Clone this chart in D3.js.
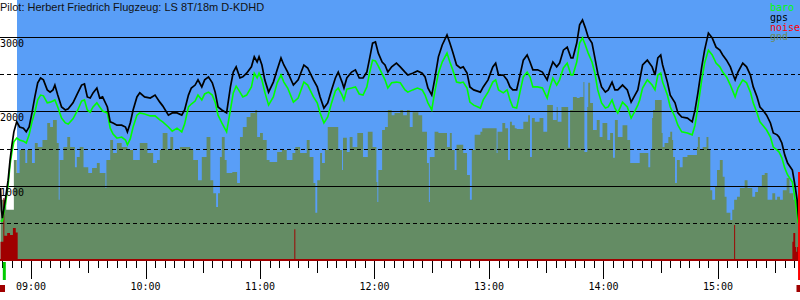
<!DOCTYPE html>
<html>
<head>
<meta charset="utf-8">
<script src="https://cdn.jsdelivr.net/npm/d3@7"></script>
<style>
  html, body { margin: 0; padding: 0; background: #fff; }
  svg { display: block; }
</style>
</head>
<body>
<div id="chart"></div>
<script>
(function() {
    'use strict';

    const title = "Pilot: Herbert Friedrich Flugzeug: LS 8T/18m D-KDHD";

    // fixes: time, gps altitude, baro altitude (m)
    const fixTimes = [
        "08:44:00","08:44:30","08:45:00","08:46:30","08:48:00","08:49:00","08:50:00","08:51:00","08:52:30","08:54:00",
        "08:56:00","08:57:30","08:59:00","09:00:30","09:02:00","09:03:30","09:05:00","09:06:30","09:08:30","09:10:00",
        "09:11:30","09:12:30","09:14:00","09:16:00","09:18:00","09:19:30","09:22:00","09:24:30","09:26:30","09:28:00",
        "09:29:30","09:31:00","09:32:30","09:34:30","09:36:00","09:37:30","09:40:00","09:41:30","09:43:00","09:45:00",
        "09:47:30","09:49:30","09:50:30","09:52:00","09:53:30","09:55:30","09:57:00","09:59:30","10:02:30","10:05:00",
        "10:07:30","10:09:00","10:12:00","10:14:00","10:16:30","10:19:00","10:20:30","10:22:30","10:24:00","10:26:00",
        "10:27:30","10:29:30","10:31:00","10:33:00","10:35:00","10:36:30","10:38:00","10:40:00","10:42:30","10:44:30",
        "10:46:00","10:47:30","10:49:30","10:51:00","10:53:00","10:55:30","10:57:00","10:58:30","10:59:30","11:01:00",
        "11:02:30","11:04:30","11:07:00","11:09:00","11:11:00","11:12:30","11:14:30","11:17:30","11:20:00","11:23:00",
        "11:25:00","11:28:00","11:30:00","11:31:30","11:33:30","11:35:30","11:37:30","11:39:30","11:41:00","11:43:00",
        "11:44:00","11:45:30","11:48:00","11:50:00","11:52:00","11:54:00","11:56:00","11:57:30","11:59:00","12:00:30",
        "12:02:00","12:04:00","12:05:30","12:07:00","12:09:00","12:11:30","12:13:30","12:16:00","12:17:30","12:20:00",
        "12:22:30","12:25:00","12:26:30","12:28:00","12:30:00","12:31:30","12:33:30","12:35:30","12:38:00","12:39:30",
        "12:41:00","12:43:00","12:45:00","12:46:30","12:48:30","12:50:00","12:52:00","12:55:30","12:57:00","12:59:30",
        "13:02:00","13:03:30","13:05:00","13:07:30","13:09:30","13:11:00","13:12:30","13:14:30","13:16:30","13:18:00",
        "13:20:00","13:21:30","13:23:00","13:25:30","13:28:00","13:30:30","13:32:00","13:33:30","13:35:30","13:37:00",
        "13:39:00","13:41:00","13:43:00","13:44:00","13:46:00","13:47:30","13:49:00","13:50:30","13:52:00","13:54:00",
        "13:55:30","13:57:00","13:59:00","14:01:00","14:02:30","14:04:30","14:06:00","14:07:30","14:10:00","14:12:30",
        "14:14:30","14:16:00","14:18:00","14:19:00","14:20:30","14:23:00","14:25:30","14:27:00","14:28:30","14:30:00",
        "14:31:00","14:33:30","14:35:00","14:37:30","14:39:00","14:41:00","14:44:00","14:46:30","14:48:00","14:49:30",
        "14:51:30","14:53:00","14:55:00","14:57:00","14:59:00","15:01:00","15:02:30","15:04:30","15:06:30","15:08:00",
        "15:09:00","15:10:30","15:13:00","15:15:00","15:17:00","15:18:30","15:20:30","15:22:00","15:23:30","15:25:30",
        "15:27:30","15:29:00","15:31:00","15:32:00","15:33:30","15:35:00","15:36:30","15:39:00","15:40:30","15:41:30",
        "15:42:00","15:42:30"
    ];
    const gpsAlt = [
        970,675,565,810,1075,1345,1550,1725,1860,1790,
        1775,1725,1790,1980,2195,2385,2450,2425,2290,2260,
        2290,2355,2220,2060,2020,2035,2115,2250,2355,2370,
        2195,2180,2250,2315,2180,2195,2060,1860,1845,1815,
        1815,1790,1725,1845,2020,2195,2250,2195,2180,2220,
        2125,2075,1950,1980,1980,1950,2020,2220,2315,2355,
        2425,2330,2425,2465,2385,2260,2060,2020,1980,2330,
        2530,2600,2450,2465,2515,2600,2735,2665,2735,2625,
        2425,2260,2395,2560,2720,2625,2530,2355,2425,2625,
        2585,2425,2330,2195,2045,2115,2290,2450,2530,2395,
        2315,2450,2530,2560,2450,2450,2530,2720,2920,2935,
        2785,2665,2625,2530,2600,2650,2600,2530,2490,2515,
        2545,2515,2465,2315,2220,2425,2735,2895,3030,2920,
        2800,2625,2585,2600,2515,2330,2290,2260,2330,2425,
        2600,2650,2490,2490,2425,2330,2290,2290,2515,2690,
        2760,2665,2560,2560,2530,2425,2560,2665,2600,2650,
        2825,2865,2720,2720,2920,3165,3230,3125,3000,2920,
        2720,2515,2330,2260,2290,2395,2290,2290,2355,2290,
        2125,2195,2290,2425,2625,2690,2600,2490,2720,2760,
        2625,2395,2220,2115,1980,1925,1910,1860,2020,2250,
        2600,2825,3055,2990,2865,2825,2760,2690,2600,2490,
        2425,2530,2650,2600,2490,2330,2195,2060,2020,1950,
        1845,1710,1685,1655,1575,1415,1305,1210,985,810,
        635,510
    ];
    const baroAlt = [
        525,525,525,740,1010,1280,1455,1590,1640,1615,
        1600,1575,1685,1860,1990,2155,2220,2210,2115,2125,
        2140,2155,2060,1910,1845,1830,1900,2020,2140,2155,
        2020,1990,2060,2115,2060,2005,1980,1775,1695,1640,
        1655,1615,1550,1630,1790,1950,1980,1965,1940,1940,
        1885,1860,1790,1735,1775,1725,1830,2060,2100,2140,
        2220,2155,2235,2260,2220,2125,1950,1845,1725,2020,
        2250,2340,2260,2195,2220,2330,2515,2450,2515,2425,
        2260,2085,2195,2385,2490,2395,2315,2125,2180,2395,
        2355,2195,2115,1980,1845,1925,2115,2275,2315,2220,
        2155,2300,2315,2330,2235,2220,2330,2530,2690,2680,
        2610,2505,2425,2315,2385,2395,2385,2290,2260,2290,
        2315,2290,2220,2115,2020,2250,2515,2665,2785,2665,
        2560,2395,2385,2395,2315,2125,2085,2045,2155,2260,
        2395,2425,2290,2250,2290,2155,2060,2045,2290,2465,
        2530,2465,2330,2330,2315,2180,2330,2450,2355,2425,
        2585,2650,2490,2490,2665,2920,2990,2895,2785,2665,
        2515,2290,2115,2045,2060,2155,2045,1980,2125,2060,
        1910,1980,2085,2155,2315,2425,2355,2290,2490,2515,
        2395,2220,2060,1925,1815,1725,1710,1685,1815,2060,
        2425,2650,2825,2760,2650,2600,2530,2465,2355,2260,
        2195,2315,2425,2385,2260,2115,1980,1860,1815,1750,
        1655,1520,1480,1455,1375,1240,1145,1050,810,635,
        510,485
    ];

    // ground elevation below the track (m), step values
    const gndTimes = [
        "08:44:00","08:47:00","08:51:00","08:52:30","08:54:00","08:57:00","08:58:00",
        "09:00:30","09:02:00","09:03:30","09:06:00","09:08:30","09:10:00","09:11:30","09:13:30","09:14:30","09:15:00",
        "09:17:00","09:19:00","09:20:30","09:23:00","09:24:00","09:25:30","09:27:30","09:30:00","09:32:00","09:34:30",
        "09:36:00","09:39:00","09:39:30","09:41:30","09:43:00","09:45:00","09:47:30","09:50:30","09:53:30","09:57:00",
        "10:01:00","10:04:00","10:06:00","10:07:30","10:09:00","10:11:30","10:13:00","10:14:30","10:18:00","10:23:30",
        "10:25:00","10:27:30","10:29:30","10:32:00","10:34:00","10:35:30","10:37:00","10:38:00","10:39:00","10:40:00",
        "10:41:30","10:42:30","10:45:30","10:48:00","10:49:30","10:51:00","10:53:00","10:55:00","10:57:30","10:58:30",
        "11:00:00","11:01:30","11:03:30","11:05:00","11:09:00","11:11:30","11:14:00","11:17:00","11:18:30","11:21:00",
        "11:24:30","11:26:00","11:28:00","11:29:00","11:30:00","11:31:30","11:32:30","11:34:00","11:35:30","11:41:00",
        "11:43:00","11:43:30","11:45:30","11:47:00","11:48:30","11:51:00","11:54:00","11:56:30","11:59:00","12:01:00",
        "12:01:30","12:02:00","12:04:00","12:05:30","12:07:00","12:09:00","12:10:30","12:13:30","12:15:00","12:17:00",
        "12:18:30","12:20:00","12:23:00","12:25:00","12:27:30","12:28:30","12:29:00","12:31:30","12:33:30","12:38:00",
        "12:39:30","12:40:30","12:42:00","12:43:00","12:46:30","12:48:30","12:50:00","12:51:00","12:52:30","12:55:30",
        "12:56:30","13:04:00","13:04:30","13:07:00","13:08:30","13:10:00","13:11:00","13:12:00","13:13:30","13:14:30",
        "13:18:00","13:20:30","13:21:30","13:22:30","13:24:00","13:26:30","13:28:30","13:30:30","13:33:30","13:35:30",
        "13:36:00","13:38:00","13:41:30","13:42:30","13:44:00","13:46:00","13:47:30","13:49:30","13:50:00","13:51:30",
        "13:52:00","13:53:00","13:54:30","13:56:30","13:58:00","13:59:30","14:02:00","14:03:30","14:05:00","14:06:00",
        "14:07:30","14:10:00","14:12:30","14:14:00","14:19:00","14:23:30","14:24:30","14:25:30","14:26:00","14:27:00",
        "14:30:30","14:31:00","14:32:00","14:34:00","14:35:00","14:36:00","14:36:30","14:37:30","14:38:30","14:40:00",
        "14:41:30","14:44:00","14:49:00","14:49:30","14:50:30","14:52:00","14:54:00","14:55:00","14:56:00","14:57:00",
        "14:58:30","14:59:30","15:01:00","15:02:30","15:03:30","15:04:30","15:06:30","15:07:30","15:08:30","15:10:00",
        "15:11:30","15:14:00","15:15:30","15:18:00","15:19:30","15:21:00","15:23:00","15:24:30","15:26:00","15:28:30",
        "15:30:00","15:31:00","15:32:30","15:34:00","15:36:00","15:37:30","15:39:30","15:41:30","15:43:00"
    ];
    const gndAlt = [
        810,675,1345,1170,1480,1305,1480,
        1305,1575,1520,1615,1845,1790,1885,1575,810,1345,
        1520,1655,1520,1250,1385,1520,1250,1170,1240,1305,
        1170,970,1345,1615,1440,1575,1520,1480,1345,1575,
        1440,1305,1345,1480,1710,1480,1655,1480,1520,1480,
        1345,1075,1385,1655,1075,900,715,900,1385,1655,
        1345,1170,1185,1035,1655,1790,1925,1980,2020,1655,
        1710,1615,1345,1320,1455,1480,1345,1440,1520,1440,
        1615,1385,1035,635,1075,1440,1305,1480,1790,1480,
        1210,1645,1455,1655,1520,1710,1385,1725,1520,1050,
        780,1210,1750,1790,2020,1950,1980,2020,1950,2020,
        1790,1990,1950,1725,1305,780,1385,1725,1710,1520,
        1710,1480,1210,1550,1440,1145,810,1480,1685,1725,
        1775,1440,1725,1845,1775,1345,1860,1815,1775,1765,
        1860,1950,1385,1910,1860,1910,1725,2085,1885,2060,
        1860,2060,1510,2020,2195,2180,2195,2395,1455,2060,
        2385,2115,1750,1885,1655,1845,1615,1710,1375,1885,
        1655,1815,1615,1305,1440,1250,1480,1910,2020,2155,
        1710,1520,1575,1655,1725,1615,1385,1035,1345,1250,
        1385,1415,1520,1655,1480,1520,1655,1480,940,810,
        985,1210,1345,1120,850,635,540,675,810,850,
        970,1075,970,850,915,985,1145,1170,810,900,
        810,850,810,940,1105,900,810,635,635
    ];

    // engine noise level, step values
    const noiseTimes = [
        "08:44:00","08:45:30","08:46:00","08:47:30","08:49:00","08:50:30","08:52:00","08:53:00",
        "11:18:00","11:18:30","15:08:30","15:09:00",
        "15:39:00","15:39:30","15:40:30","15:41:00","15:41:30","15:43:00"
    ];
    const noiseLevel = [
        245,835,325,365,335,430,370,0,
        415,0,470,0,
        245,365,175,110,175,175
    ];

    const takeoffTime = "08:46:00";
    const landingTime = "15:42:30";

    const solidLevels = [1000, 2000, 3000];
    const dashedLevels = [500, 1500, 2500];
    const altLabels = ["1000", "2000", "3000"];

    const legendNames = ["baro", "gps", "noise", "gnd"];
    const legendColors = ["#00ff00", "#000000", "#ff0000", "#6b8c5a"];

    const width = 800;
    const height = 300;
    const skyLeft = 17;
    const axisY = 261;
    const mono = "'DejaVu Sans Mono', monospace";

    const parse = d3.timeParse("%H:%M:%S");

    const fixes = fixTimes.map((t, i) => ({ t: parse(t), gps: gpsAlt[i], baro: baroAlt[i] }));
    const ground = gndTimes.map((t, i) => ({ t: parse(t), v: gndAlt[i] }));
    const noise = noiseTimes.map((t, i) => ({ t: parse(t), v: noiseLevel[i] }));

    const svg = d3.select("#chart")
        .append("svg")
        .attr("width", width)
        .attr("height", height);

    svg.append("rect")
        .attr("width", width).attr("height", height)
        .attr("fill", "#ffffff");

    // SCALES
    const x = d3.scaleTime()
        .domain([parse("08:44:00"), parse("15:43:00")])
        .range([0.5, 800]);

    const y = d3.scaleLinear()
        .domain([0, 3500])
        .range([260, 0]);

    // SKY
    svg.append("rect")
        .attr("x", skyLeft)
        .attr("y", 0)
        .attr("width", width - skyLeft)
        .attr("height", y(0))
        .attr("fill", "#599ef7");

    // GROUND
    const area = d3.area()
        .x(d => x(d.t))
        .y0(y(0))
        .y1(d => y(d.v))
        .curve(d3.curveStepAfter);

    svg.append("path")
        .datum(ground)
        .attr("d", area)
        .attr("fill", "#648c64");

    // GRID
    svg.append("g")
        .selectAll("line")
        .data(solidLevels)
        .join("line")
        .attr("x1", 0).attr("x2", width)
        .attr("y1", d => Math.round(y(d)) + 0.5)
        .attr("y2", d => Math.round(y(d)) + 0.5)
        .attr("stroke", "#000");

    svg.append("g")
        .selectAll("line")
        .data(dashedLevels)
        .join("line")
        .attr("x1", 0).attr("x2", width)
        .attr("y1", d => Math.round(y(d)) + 0.5)
        .attr("y2", d => Math.round(y(d)) + 0.5)
        .attr("stroke", "#000")
        .attr("stroke-dasharray", "4,3");

    // NOISE
    svg.append("path")
        .datum(noise)
        .attr("d", area)
        .attr("fill", "#a00000");

    // LINES
    const baroLine = d3.line().x(d => x(d.t)).y(d => y(d.baro));
    const gpsLine = d3.line().x(d => x(d.t)).y(d => y(d.gps));

    svg.append("path")
        .datum(fixes)
        .attr("d", baroLine)
        .attr("fill", "none")
        .attr("stroke", "#00ff00")
        .attr("stroke-width", 1.6);

    svg.append("path")
        .datum(fixes)
        .attr("d", gpsLine)
        .attr("fill", "none")
        .attr("stroke", "#000")
        .attr("stroke-width", 1.7);

    // ALTITUDE LABELS
    svg.append("g")
        .selectAll("text")
        .data(solidLevels)
        .join("text")
        .attr("x", 0)
        .attr("y", d => y(d) + 10)
        .attr("font-family", mono)
        .attr("font-size", "10px")
        .attr("fill", "#000")
        .text((d, i) => altLabels[i]);

    // TIME AXIS
    svg.append("line")
        .attr("x1", 0).attr("x2", width)
        .attr("y1", y(0)).attr("y2", y(0))
        .attr("stroke", "#a00000")
        .attr("stroke-width", 2);

    const ticks = x.ticks(d3.timeMinute.every(5));
    const tickLen = d => d.getMinutes() === 0 ? 18 : (d.getMinutes() === 30 ? 12 : 7);

    svg.append("g")
        .selectAll("line")
        .data(ticks)
        .join("line")
        .attr("x1", d => Math.round(x(d)) + 0.5)
        .attr("x2", d => Math.round(x(d)) + 0.5)
        .attr("y1", axisY)
        .attr("y2", d => axisY + tickLen(d))
        .attr("stroke", "#000");

    svg.append("g")
        .selectAll("text")
        .data(x.ticks(d3.timeHour.every(1)))
        .join("text")
        .attr("x", d => x(d))
        .attr("y", 290)
        .attr("text-anchor", "middle")
        .attr("font-family", mono)
        .attr("font-size", "10px")
        .attr("fill", "#000")
        .text(d3.timeFormat("%H:%M"));

    // TAKEOFF / LANDING MARKERS
    svg.append("rect")
        .attr("x", x(parse(takeoffTime)) - 1.5)
        .attr("y", 262)
        .attr("width", 3)
        .attr("height", 18)
        .attr("fill", "#00cc00");

    svg.append("rect")
        .attr("x", x(parse(landingTime)) - 1)
        .attr("y", 172)
        .attr("width", 2)
        .attr("height", 108)
        .attr("fill", "#ff0000");

    svg.append("g")
        .selectAll("rect")
        .data([parse("08:44:00"), parse(landingTime)])
        .join("rect")
        .attr("x", d => Math.min(x(d), width - 3) - 0.5)
        .attr("y", 285)
        .attr("width", 5)
        .attr("height", 7)
        .attr("fill", "#a00000");

    // LEGEND
    svg.append("g")
        .selectAll("text")
        .data(legendNames)
        .join("text")
        .attr("x", 770)
        .attr("y", (d, i) => 11 + i * 9.8)
        .attr("font-family", mono)
        .attr("font-size", "10px")
        .attr("fill", (d, i) => legendColors[i])
        .text(d => d);

    // TITLE
    svg.append("text")
        .attr("x", 0)
        .attr("y", 10.5)
        .attr("font-family", "'Liberation Sans', Arial, sans-serif")
        .attr("font-size", "11px")
        .attr("fill", "#111")
        .text(title);

})();
</script>
</body>
</html>
